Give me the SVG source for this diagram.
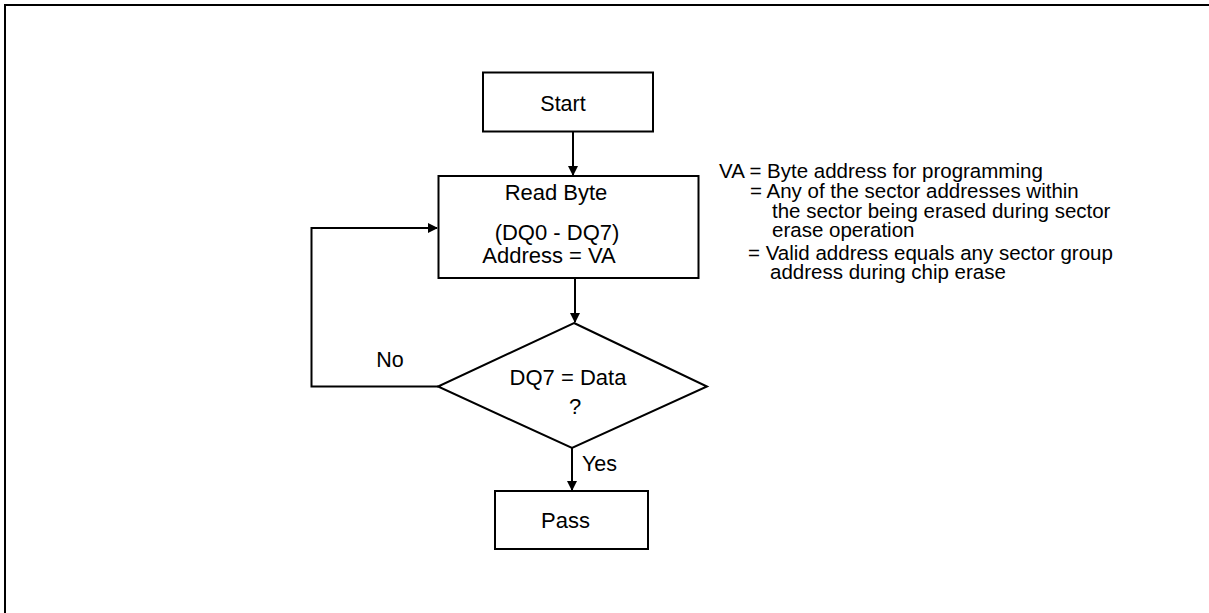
<svg xmlns="http://www.w3.org/2000/svg" width="1209" height="613" viewBox="0 0 1209 613">
<style>
  text { font-family: "Liberation Sans", Arial, sans-serif; font-size: 22px; fill: #000; }
  .c { text-anchor: middle; }
  .s { font-size: 21.5px; }
  .n { font-size: 20.5px; }
  .shape { fill: #fff; stroke: #000; stroke-width: 2; }
  .line { fill: none; stroke: #000; stroke-width: 2; }
</style>
<defs>
  <marker id="arr" markerWidth="10" markerHeight="10" refX="9" refY="5" orient="auto" markerUnits="userSpaceOnUse">
    <path d="M0,0 L10,5 L0,10 Z" fill="#000"/>
  </marker>
</defs>
<rect width="1209" height="613" fill="#fff"/>
<path class="line" d="M5,613 V5 H1209" stroke-width="2.5"/>

<g id="connectors">
  <line class="line" x1="573" y1="132" x2="573" y2="175" marker-end="url(#arr)"/>
  <line class="line" x1="575" y1="278" x2="575" y2="322" marker-end="url(#arr)"/>
  <polyline class="line" points="438,386.5 311.5,386.5 311.5,228 437,228" marker-end="url(#arr)"/>
  <line class="line" x1="572" y1="448" x2="572" y2="490" marker-end="url(#arr)"/>
  <text x="390" y="367" class="c s">No</text>
  <text x="582" y="471" class="s">Yes</text>
</g>

<g id="start">
  <rect class="shape" x="483" y="72.5" width="170" height="59"/>
  <text x="563" y="111" class="c s">Start</text>
</g>

<g id="read">
  <rect class="shape" x="438.5" y="176" width="260" height="102"/>
  <text x="556" y="200" class="c">Read Byte</text>
  <text x="557" y="240" class="c">(DQ0 - DQ7)</text>
  <text x="549" y="263" class="c">Address = VA</text>
</g>

<g id="decision">
  <polygon class="shape" points="574,323 707,386.5 572,448 438,386.5"/>
  <text x="568" y="385" class="c">DQ7 = Data</text>
  <text x="575" y="414" class="c">?</text>
</g>

<g id="pass">
  <rect class="shape" x="495" y="491" width="153" height="58"/>
  <text x="565.5" y="528" class="c">Pass</text>
</g>

<g id="note">
  <text x="719" y="178" class="n">VA = Byte address for programming</text>
  <text x="750" y="198" class="n">= Any of the sector addresses within</text>
  <text x="772" y="218" class="n">the sector being erased during sector</text>
  <text x="772" y="237" class="n">erase operation</text>
  <text x="748" y="260" class="n">= Valid address equals any sector group</text>
  <text x="770" y="279" class="n">address during chip erase</text>
</g>
</svg>
